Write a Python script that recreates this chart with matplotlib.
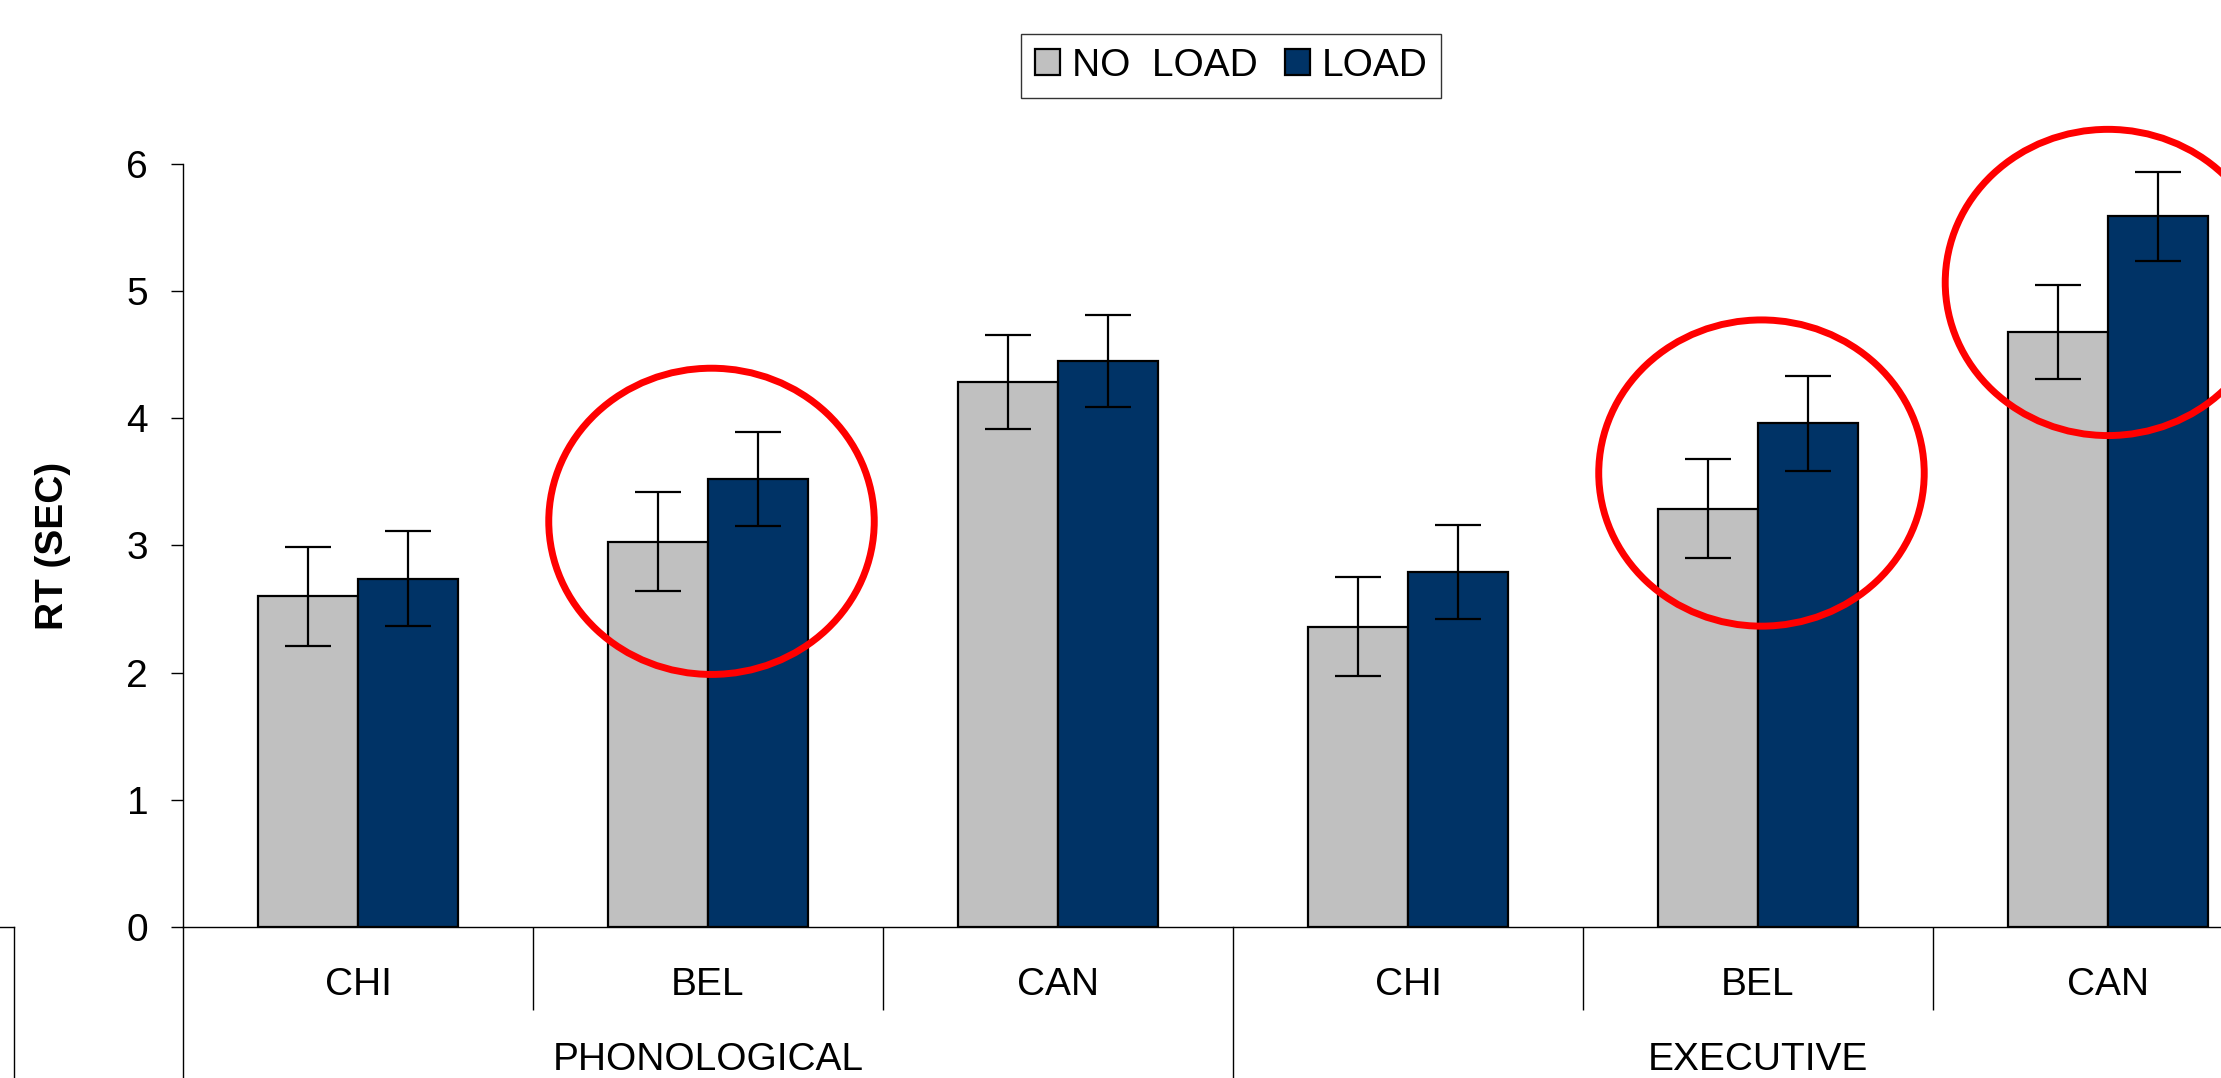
import numpy as np
import matplotlib
matplotlib.use("Agg")
import matplotlib.pyplot as plt
from matplotlib.patches import Ellipse, Patch
from matplotlib.lines import Line2D

plt.rcParams['font.family'] = ['Liberation Sans', 'DejaVu Sans']

# data
groups = ["PHONOLOGICAL", "EXECUTIVE"]
countries = ["CHI", "BEL", "CAN", "CHI", "BEL", "CAN"]
no_load = [2.60, 3.03, 4.29, 2.36, 3.29, 4.68]
no_load_err = [0.39, 0.39, 0.37, 0.39, 0.39, 0.37]
load = [2.74, 3.52, 4.45, 2.79, 3.96, 5.59]
load_err = [0.37, 0.37, 0.36, 0.37, 0.37, 0.35]
series_names = ["NO  LOAD", "LOAD"]
yticks = [0, 1, 2, 3, 4, 5, 6]

GRAY = "#C0C0C0"
NAVY = "#003366"
FS = 28

fig = plt.figure(figsize=(22.21, 10.78), dpi=100)
# plot area runs past the right edge of the picture, like the original
ax = fig.add_axes([0.0824, 0.1404, 0.9455, 0.7072])

x = np.arange(len(countries))
w = 1 / 3.5
ax.bar(x - w / 2, no_load, w, color=GRAY, edgecolor="black", linewidth=1.6,
       yerr=no_load_err, error_kw=dict(ecolor="black", elinewidth=1.6, capsize=16.5, capthick=1.6))
ax.bar(x + w / 2, load, w, color=NAVY, edgecolor="black", linewidth=1.6,
       yerr=load_err, error_kw=dict(ecolor="black", elinewidth=1.6, capsize=16.5, capthick=1.6))

ax.set_xlim(-0.5, len(countries) - 0.5)
ax.set_ylim(0, 6)
ax.set_yticks(yticks)
ax.tick_params(axis="y", direction="out", length=8.6, width=1, pad=16.5, labelsize=FS)
for s in ["top", "right"]:
    ax.spines[s].set_visible(False)
ax.spines["left"].set_linewidth(1)
ax.spines["bottom"].set_linewidth(1)

# category separators as minor ticks, labels as text
ax.set_xticks([])
ax.set_xticks([0.5, 1.5, 3.5, 4.5], minor=True)
ax.tick_params(axis="x", which="minor", direction="out", length=60, width=1)
tr = ax.get_xaxis_transform()
for xi, lab in zip(x, countries):
    ax.text(xi, -0.076, lab, transform=tr, ha="center", va="center", fontsize=FS)
n = len(countries) // len(groups)
for gi, g in enumerate(groups):
    ax.text(gi * n + (n - 1) / 2, -0.175, g, transform=tr, ha="center", va="center", fontsize=FS)
for xb in [-0.5, 2.5, 5.5]:
    ax.plot([xb, xb], [0, -0.3], transform=tr, color="black", lw=1, clip_on=False)

ax.set_ylabel("RT (SEC)", fontsize=FS, fontweight="bold", va="center", ha="center")
ax.yaxis.set_label_coords(-0.062, 0.5)

# red ellipses highlighting the load effect
for cx, cy in [(1.01, 3.19), (4.01, 3.57), (5.0, 5.07)]:
    ax.add_patch(Ellipse((cx, cy), 0.93, 2.41, fill=False, edgecolor="red", lw=5, clip_on=False))

handles = [Patch(facecolor=GRAY, edgecolor="black", lw=1.6),
           Patch(facecolor=NAVY, edgecolor="black", lw=1.6)]
leg = fig.legend(handles, series_names, loc="center", bbox_to_anchor=(1231 / 2221, 1 - 66 / 1078),
                 ncol=2, fontsize=FS, frameon=True, fancybox=False, handlelength=0.65,
                 handleheight=0.65, handletextpad=0.3, columnspacing=0.7, borderpad=0.35)
leg.get_frame().set_edgecolor("black")
leg.get_frame().set_linewidth(1)

# fragment of a neighbouring chart at the lower left
fig.add_artist(Line2D([0, 14 / 2221], [0.1404, 0.1404], color="black", lw=1))
fig.add_artist(Line2D([14 / 2221, 14 / 2221], [0, 0.1404], color="black", lw=1))

fig.savefig("out.png", dpi=100)
